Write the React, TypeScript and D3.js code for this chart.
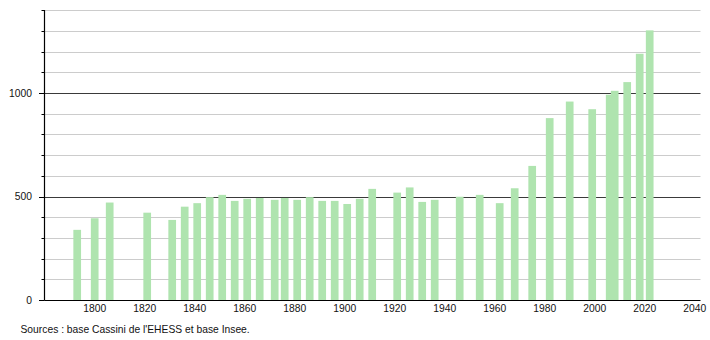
import React from "react";
import * as d3 from "d3";

const years = [
  1793, 1800, 1806, 1821, 1831, 1836, 1841, 1846, 1851, 1856, 1861, 1866, 1872, 1876,
  1881, 1886, 1891, 1896, 1901, 1906, 1911, 1921, 1926, 1931, 1936, 1946, 1954, 1962,
  1968, 1975, 1982, 1990, 1999, 2006, 2008, 2013, 2018, 2022,
];
const population = [
  339, 395, 471, 422, 387, 451, 468, 497, 508, 479, 489, 493, 484, 493,
  484, 497, 479, 479, 464, 489, 537, 519, 544, 474, 484, 499, 508, 468,
  540, 648, 879, 959, 922, 992, 1011, 1053, 1190, 1303,
];
const yLabelTicks = [0, 500, 1000];
const xLabelTicks = [1800, 1820, 1840, 1860, 1880, 1900, 1920, 1940, 1960, 1980, 2000, 2020, 2040];
const sourceText = "Sources : base Cassini de l'EHESS et base Insee.";

export default function App() {
  const W = 710;
  const H = 340;
  const x = d3.scaleLinear().domain([1780, 2040]).range([44.7, 694.7]);
  const y = d3.scaleLinear().domain([0, 1400]).range([300, 10.3]);
  const xEnd = 700.5;
  const minorTicks = d3.range(0, 1401, 100);
  const barW = 7.7;
  const font = "'Liberation Sans', Arial, sans-serif";
  const axisX = 44.5;
  const fs = 10.3;

  return (
    <svg
      width={W}
      height={H}
      style={{ position: "absolute", left: 0, top: 0, background: "#fff" }}
      fontFamily={font}
    >
      {minorTicks.map((t) => {
        if (t === 0) return null;
        const major = t % 500 === 0;
        const yy = Math.round(y(t)) + 0.5;
        return (
          <line
            key={"g" + t}
            x1={axisX}
            x2={xEnd}
            y1={yy}
            y2={yy}
            stroke={major ? "#3a3a3a" : "#cccccc"}
            strokeWidth={1}
          />
        );
      })}
      {years.map((yr, i) => (
        <rect
          key={"b" + yr}
          x={x(yr) - barW / 2}
          y={y(population[i])}
          width={barW}
          height={y(0) - y(population[i])}
          fill="#afe4af"
        />
      ))}
      <line x1={axisX} x2={axisX} y1={Math.round(y(1400))} y2={300.5} stroke="#000" strokeWidth={1.2} />
      {minorTicks.map((t) => {
        const major = t % 500 === 0;
        const yy = Math.round(y(t)) + 0.5;
        return (
          <line
            key={"t" + t}
            x1={major ? 39 : 41.5}
            x2={axisX}
            y1={yy}
            y2={yy}
            stroke="#000"
            strokeWidth={1}
          />
        );
      })}
      {yLabelTicks.map((t) => (
        <text
          key={"yl" + t}
          x={32}
          y={y(t)}
          dy="0.36em"
          textAnchor="end"
          fontSize={fs}
          fill="#111"
        >
          {t}
        </text>
      ))}
      <line x1={axisX} x2={xEnd} y1={300.5} y2={300.5} stroke="#000" strokeWidth={1.2} />
      {xLabelTicks.map((t) => (
        <text
          key={"xl" + t}
          x={x(t)}
          y={312}
          textAnchor="middle"
          fontSize={fs}
          fill="#111"
        >
          {t}
        </text>
      ))}
      <text x={20.5} y={333} fontSize={fs} fill="#111">
        {sourceText}
      </text>
    </svg>
  );
}
